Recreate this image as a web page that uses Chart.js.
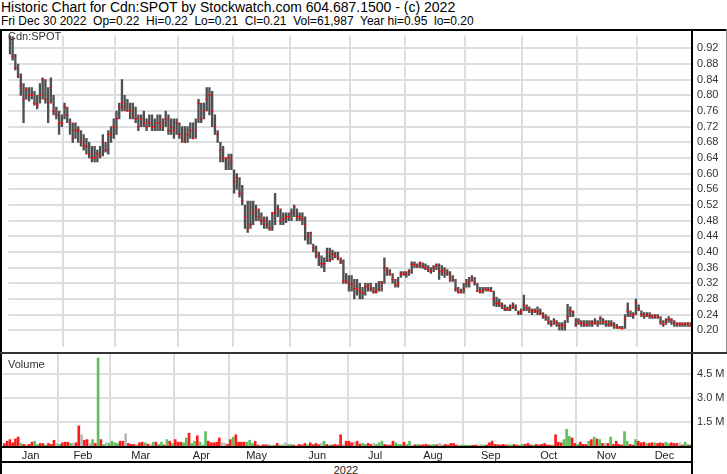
<!DOCTYPE html>
<html><head><meta charset="utf-8">
<script src="https://cdn.jsdelivr.net/npm/chart.js@4"></script>
<style>
html,body{margin:0;padding:0;background:#fff;}
body{width:727px;height:474px;position:relative;overflow:hidden;font-family:"Liberation Sans",Arial,sans-serif;}
.t{position:absolute;white-space:pre;color:#000;}
.ln{position:absolute;background:#000;}
canvas{position:absolute;}
</style></head><body>
<div class="t" style="left:1px;top:0px;font-size:14px;line-height:14px;">Historic Chart for Cdn:SPOT by Stockwatch.com 604.687.1500 - (c) 2022</div>
<div class="t" style="left:1px;top:15px;font-size:12px;line-height:12px;">Fri Dec 30 2022  Op=0.22  Hi=0.22  Lo=0.21  Cl=0.21  Vol=61,987  Year hi=0.95  lo=0.20</div>
<canvas id="price" width="724" height="322" style="left:3px;top:30px"></canvas>
<canvas id="vol" width="724" height="107" style="left:3px;top:354px"></canvas>
<div class="t" style="left:8px;top:30px;font-size:11px;color:#333;">Cdn:SPOT</div>
<div class="t" style="left:8px;top:358px;font-size:11px;color:#333;">Volume</div>
<div class="t" style="left:0;width:692px;top:464px;text-align:center;font-size:11px;color:#222;">2022</div>
<div class="ln" style="left:0;top:29px;width:727px;height:2px;"></div>
<div class="ln" style="left:0;top:29px;width:2px;height:445px;"></div>
<div class="ln" style="left:691px;top:29px;width:2px;height:445px;"></div>
<div class="ln" style="left:726px;top:29px;width:1px;height:324px;background:#888;"></div>
<div class="ln" style="left:0;top:352px;width:727px;height:2px;background:#333;"></div>
<div class="ln" style="left:0;top:446px;width:693px;height:2px;"></div>
<div class="ln" style="left:0;top:461px;width:693px;height:2px;"></div>
<script>
// ---- data ----
const monthNames = ['Jan','Feb','Mar','Apr','May','Jun','Jul','Aug','Sep','Oct','Nov','Dec'];
const tradingDays = [
  [4,5,6,7,10,11,12,13,14,17,18,19,20,21,24,25,26,27,28,31],
  [1,2,3,4,7,8,9,10,11,14,15,16,17,18,22,23,24,25,28],
  [1,2,3,4,7,8,9,10,11,14,15,16,17,18,21,22,23,24,25,28,29,30,31],
  [1,4,5,6,7,8,11,12,13,14,18,19,20,21,22,25,26,27,28,29],
  [2,3,4,5,6,9,10,11,12,13,16,17,18,19,20,24,25,26,27,30,31],
  [1,2,3,6,7,8,9,10,13,14,15,16,17,20,21,22,23,24,27,28,29,30],
  [4,5,6,7,8,11,12,13,14,15,18,19,20,21,22,25,26,27,28,29],
  [2,3,4,5,8,9,10,11,12,15,16,17,18,19,22,23,24,25,26,29,30,31],
  [1,2,6,7,8,9,12,13,14,15,16,19,20,21,22,23,26,27,28,29,30],
  [3,4,5,6,7,11,12,13,14,17,18,19,20,21,24,25,26,27,28,31],
  [1,2,3,4,7,8,9,10,11,14,15,16,17,18,21,22,23,24,25,28,29,30],
  [1,2,5,6,7,8,9,12,13,14,15,16,19,20,21,22,23,28,29,30]
];
const priceTicks = [0.20,0.24,0.28,0.32,0.36,0.40,0.44,0.48,0.52,0.56,0.60,0.64,0.68,0.72,0.76,0.80,0.84,0.88,0.92];
const volumeTicks = [1500000,3000000,4500000];

const highs = [
 .955,.95,.905,.88,.855,.83,.82,.82,.82,.81,.80,.83,.845,.84,.82,.845,.80,.77,.76,.75,
 .78,.77,.74,.73,.73,.72,.71,.70,.69,.68,.67,.67,.66,.67,.70,.68,.71,.72,.74,
 .76,.78,.84,.80,.79,.78,.78,.77,.75,.75,.76,.74,.75,.75,.74,.75,.75,.74,.76,.75,.74,.74,.74,
 .73,.72,.72,.72,.73,.73,.74,.79,.78,.78,.82,.82,.81,.75,.71,.68,.67,.64,.65,.65,
 .61,.60,.59,.57,.52,.53,.53,.53,.52,.51,.50,.49,.49,.48,.50,.55,.52,.51,.50,.50,.50,
 .51,.52,.51,.50,.50,.49,.45,.45,.42,.415,.40,.39,.385,.41,.41,.405,.40,.40,.385,.38,.345,.34,
 .34,.33,.33,.32,.31,.32,.32,.32,.31,.32,.325,.325,.385,.36,.355,.345,.33,.335,.35,.35,
 .35,.355,.375,.375,.37,.375,.372,.37,.365,.36,.365,.37,.37,.365,.36,.355,.35,.34,.33,.31,.305,.32,
 .33,.335,.34,.335,.32,.31,.31,.31,.31,.31,.30,.285,.28,.27,.265,.26,.265,.27,.265,.25,.255,
 .29,.265,.26,.255,.255,.26,.255,.245,.24,.235,.225,.23,.225,.22,.22,.225,.266,.26,.25,.23,
 .23,.225,.225,.225,.225,.225,.23,.225,.235,.23,.225,.225,.225,.22,.215,.21,.21,.24,.27,.25,.245,.28,
 .265,.25,.245,.245,.245,.24,.24,.24,.235,.225,.23,.235,.23,.225,.22,.22,.22,.22,.22,.22
];
const lows = [
 .905,.89,.865,.845,.80,.73,.79,.785,.79,.775,.765,.78,.79,.78,.73,.78,.75,.74,.70,.72,
 .74,.73,.70,.68,.69,.68,.67,.66,.65,.64,.63,.63,.63,.64,.645,.655,.65,.68,.69,
 .70,.74,.76,.76,.76,.74,.74,.73,.71,.72,.72,.71,.72,.71,.71,.71,.71,.71,.72,.70,.70,.69,.70,
 .69,.68,.68,.68,.69,.69,.69,.73,.73,.74,.76,.75,.72,.70,.68,.63,.63,.61,.61,.61,
 .55,.56,.54,.52,.46,.45,.46,.47,.48,.48,.47,.46,.46,.455,.455,.47,.49,.47,.47,.475,.48,
 .48,.49,.48,.48,.47,.43,.42,.42,.40,.385,.365,.36,.35,.375,.375,.38,.385,.38,.37,.32,.32,.30,
 .30,.28,.29,.28,.28,.29,.30,.30,.295,.295,.30,.30,.32,.34,.34,.32,.31,.31,.335,.34,
 .335,.34,.345,.36,.36,.36,.358,.355,.35,.345,.35,.355,.33,.34,.335,.34,.325,.325,.30,.295,.295,.295,
 .31,.31,.325,.315,.30,.295,.295,.30,.30,.30,.262,.26,.26,.255,.25,.25,.25,.255,.25,.24,.24,
 .25,.25,.245,.24,.245,.24,.24,.23,.225,.215,.21,.215,.21,.20,.20,.20,.22,.235,.235,.21,
 .215,.21,.21,.21,.21,.21,.215,.21,.215,.215,.21,.21,.21,.205,.205,.205,.205,.205,.235,.235,.23,.24,
 .25,.235,.23,.235,.23,.23,.23,.23,.215,.21,.215,.22,.215,.21,.21,.21,.21,.21,.21,.21
];
const closes = [
 .945,.90,.87,.85,.825,.79,.815,.80,.80,.78,.775,.80,.84,.79,.78,.82,.76,.75,.73,.73,
 .77,.75,.73,.69,.71,.71,.68,.67,.67,.65,.64,.64,.65,.645,.68,.66,.70,.70,.72,
 .74,.77,.78,.77,.76,.76,.75,.74,.72,.74,.73,.72,.73,.72,.72,.73,.72,.73,.74,.71,.72,.71,.73,
 .70,.69,.68,.70,.71,.69,.71,.78,.74,.76,.79,.80,.76,.72,.70,.66,.64,.64,.64,.63,
 .58,.59,.55,.53,.49,.46,.47,.50,.51,.49,.48,.48,.47,.46,.50,.50,.51,.48,.485,.49,.49,
 .50,.515,.49,.49,.485,.47,.44,.45,.41,.40,.39,.37,.37,.40,.38,.395,.39,.385,.375,.325,.325,.32,
 .318,.307,.307,.30,.295,.312,.314,.307,.298,.298,.305,.32,.36,.35,.344,.33,.315,.32,.344,.345,
 .344,.35,.368,.368,.364,.372,.365,.36,.355,.35,.36,.367,.35,.35,.354,.345,.336,.328,.305,.297,.297,.307,
 .321,.325,.333,.321,.30,.30,.30,.305,.303,.30,.28,.27,.268,.262,.255,.253,.258,.263,.257,.245,.248,
 .264,.256,.252,.248,.25,.248,.244,.237,.233,.222,.217,.225,.219,.213,.211,.213,.233,.25,.246,.215,
 .223,.218,.217,.214,.219,.217,.221,.219,.23,.221,.221,.214,.217,.213,.208,.206,.204,.23,.25,.24,.238,.27,
 .254,.24,.236,.24,.238,.234,.238,.234,.222,.215,.222,.228,.226,.22,.217,.217,.215,.217,.218,.21
];
// volume in thousands of shares
const volumesK = [
 150,300,400,200,440,560,160,100,100,100,240,300,100,160,160,60,160,100,360,160,
 100,200,240,240,160,160,200,1260,700,360,400,160,400,160,5500,400,100,200,160,
 300,200,160,300,300,760,160,100,100,60,200,240,200,120,100,240,240,100,240,60,400,300,160,
 400,240,240,200,500,800,160,300,640,240,60,900,300,200,200,240,500,200,160,100,
 400,560,700,240,240,240,240,360,160,300,60,60,80,80,80,60,60,160,60,60,200,
 100,100,60,60,100,60,160,80,200,80,160,80,160,300,100,60,60,100,60,700,100,300,
 300,200,240,300,120,160,100,160,100,160,100,200,300,100,60,60,300,200,100,100,
 240,100,300,60,80,100,60,80,100,60,80,100,80,160,60,100,60,160,160,60,60,60,
 60,40,60,40,60,60,100,60,60,200,300,100,80,60,100,60,80,60,100,60,60,
 100,100,160,60,60,100,60,100,160,60,60,60,700,240,200,400,1040,600,500,160,
 100,240,100,100,300,400,560,440,400,160,160,160,560,100,300,100,60,900,300,100,60,400,
 300,200,240,160,160,200,200,160,200,160,240,160,200,160,160,200,60,240,100,62
];

// ---- derived structures ----
const dates = [];
const monthStart = new Set();
const monthLabelAt = {};
let idx = 0;
tradingDays.forEach((days, m) => {
  monthStart.add(idx);
  monthLabelAt[idx + Math.floor(days.length / 2)] = monthNames[m];
  days.forEach(d => dates.push(monthNames[m] + ' ' + d));
  idx += days.length;
});
const volumes = volumesK.map(v => v * 1000);
const RED = '#ff1a1a', GREEN = '#5ec05e', GRAY = '#b8b8b8';
const volColors = closes.map((c, i) => i === 0 ? RED : (c > closes[i-1] ? GREEN : (c < closes[i-1] ? RED : GRAY)));

Chart.defaults.font.family = '"Liberation Sans", Arial, sans-serif';
Chart.defaults.font.size = 11;
const GRID = '#dedede';
const monthGrid = ctx => (ctx.index > 0 && monthStart.has(ctx.index)) ? GRID : 'rgba(0,0,0,0)';
const noPad = s => { s.paddingTop = 0; s.paddingBottom = 0; s.paddingLeft = 0; s.paddingRight = 0; };

new Chart(document.getElementById('price'), {
  type: 'bar',
  data: {
    labels: dates,
    datasets: [
      { type: 'line', data: closes, showLine: false, pointStyle: 'line', pointRadius: 1.1,
        pointBorderWidth: 1.5, pointBorderColor: '#ff0000', pointBackgroundColor: '#ff0000', order: 0 },
      { type: 'bar', data: lows.map((l, i) => [l, highs[i]]), backgroundColor: '#505050',
        barThickness: 1.7, order: 1 }
    ]
  },
  options: {
    responsive: false, animation: false, maintainAspectRatio: false,
    layout: { padding: 0 },
    plugins: { legend: { display: false }, tooltip: { enabled: false } },
    scales: {
      x: {
        offset: true,
        grid: { offset: true, color: monthGrid, lineWidth: 2, drawTicks: false },
        ticks: { display: false, autoSkip: false },
        border: { display: false },
        afterFit: s => { s.height = 0; noPad(s); }
      },
      y: {
        position: 'right', min: 0.1586, max: 0.9528,
        afterBuildTicks: s => { s.ticks = priceTicks.map(v => ({ value: v })); },
        ticks: { callback: v => Number(v).toFixed(2), color: '#333', padding: 5, font: { size: 11 } },
        grid: { color: GRID, lineWidth: 2, drawTicks: false },
        border: { display: true, color: '#000', width: 2 },
        afterFit: s => { s.width = 35; noPad(s); }
      }
    }
  }
});

new Chart(document.getElementById('vol'), {
  type: 'bar',
  data: {
    labels: dates,
    datasets: [
      { data: volumes, backgroundColor: volColors, barThickness: 2 }
    ]
  },
  options: {
    responsive: false, animation: false, maintainAspectRatio: false,
    layout: { padding: 0 },
    plugins: { legend: { display: false }, tooltip: { enabled: false } },
    scales: {
      x: {
        offset: true,
        grid: { offset: true, color: monthGrid, lineWidth: 2, drawTicks: false },
        ticks: { autoSkip: false, maxRotation: 0, minRotation: 0, padding: 3, labelOffset: -1.38,
                 color: '#222', font: { size: 11 },
                 callback: (v, i) => monthLabelAt[i] || '' },
        border: { display: false },
        afterFit: s => { s.height = 15; noPad(s); }
      },
      y: {
        position: 'right', min: 0, max: 5750000,
        afterBuildTicks: s => { s.ticks = volumeTicks.map(v => ({ value: v })); },
        ticks: { callback: v => (v / 1e6).toFixed(1) + ' M', color: '#333', padding: 5, font: { size: 11 } },
        grid: { color: GRID, lineWidth: 2, drawTicks: false },
        border: { display: true, color: '#000', width: 2 },
        afterFit: s => { s.width = 35; noPad(s); }
      }
    }
  }
});
</script>
</body></html>
